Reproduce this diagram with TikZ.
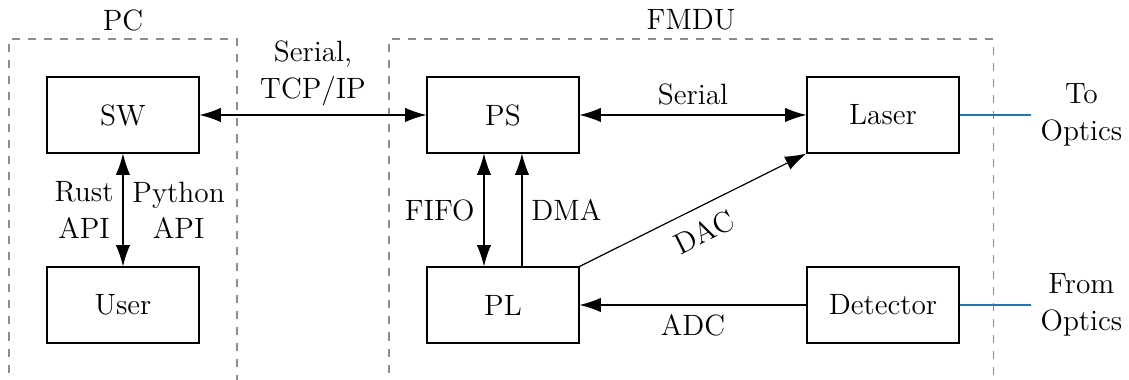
\documentclass[tikz,border=0pt]{standalone}
\usetikzlibrary{arrows.meta}
\definecolor{optblue}{RGB}{31,119,180}
\begin{document}
\begin{tikzpicture}[
  font=\fontsize{11}{13.6}\selectfont,
  blk/.style={draw, minimum width=2cm, minimum height=1cm},
  conn/.style={line width=0.45pt, -{Latex[length=8pt,width=5.4pt]}},
  bconn/.style={line width=0.45pt, {Latex[length=8pt,width=5.4pt]}-{Latex[length=8pt,width=5.4pt]}},
  frame/.style={draw=black!45, dashed, line width=0.5pt},
  optline/.style={draw=optblue, line width=1pt},
  lbl/.style={align=center}
]
\useasboundingbox (-1.618,-3.474) rectangle (13.237,1.513);

% containers
\draw[frame] (-1.5,-3.6) -- (-1.5,1) -- (1.5,1) -- (1.5,-3.6);
\draw[frame] (3.5,-3.6) -- (3.5,1) -- (11.45,1) -- (11.45,-3.6);
\node (pc) at (0,1.25) {PC};
\node (fmdu) at (7.475,1.25) {FMDU};

% blocks
\node[blk] (sw) at (0,0) {SW};
\node[blk] (user) at (0,-2.5) {User};
\node[blk] (ps) at (5,0) {PS};
\node[blk] (pl) at (5,-2.5) {PL};
\node[blk] (laser) at (10,0) {Laser};
\node[blk] (det) at (10,-2.5) {Detector};

% optics
\coordinate (toopt) at (11.95,0);
\coordinate (fromopt) at (11.95,-2.5);
\draw[optline] (laser.east) -- (toopt);
\draw[optline] (det.east) -- (fromopt);
\node[lbl, anchor=west] (tolbl) at (toopt) {To\\Optics};
\node[lbl, anchor=west] (fromlbl) at (fromopt) {From\\Optics};

% connectors
\draw[bconn] (sw.east) -- node[above, lbl] {Serial,\\TCP/IP} (ps.west);
\draw[bconn] (ps.east) -- node[above] {Serial} (laser.west);
\draw[bconn] (sw.south) -- node[left, lbl] {Rust\\API} node[right, lbl] {Python\\API} (user.north);
\draw[bconn] ([xshift=-0.25cm]ps.south) -- node[left] {FIFO} ([xshift=-0.25cm]pl.north);
\draw[conn] ([xshift=0.25cm]pl.north) -- node[right] {DMA} ([xshift=0.25cm]ps.south);
\draw[conn] (pl.north east) -- node[below, sloped, inner sep=5pt] {DAC} (laser.south west);
\draw[conn] (det.west) -- node[below] {ADC} (pl.east);
\end{tikzpicture}
\end{document}
